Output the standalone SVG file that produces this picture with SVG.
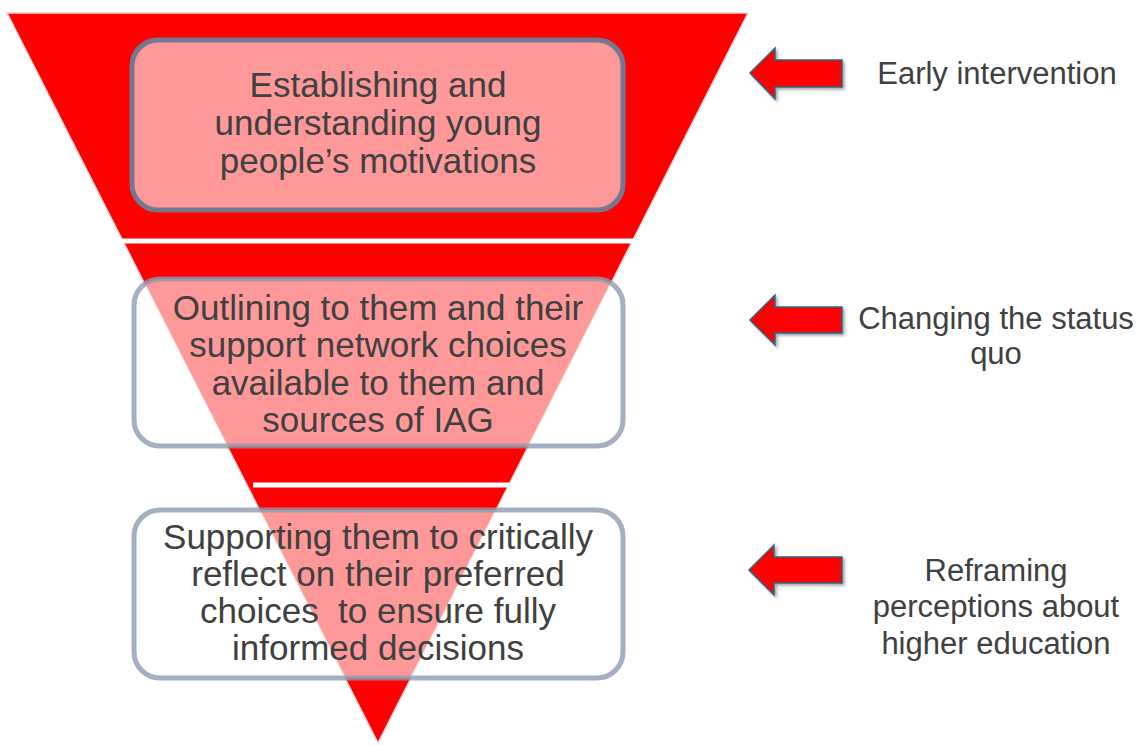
<svg xmlns="http://www.w3.org/2000/svg" width="1142" height="745" viewBox="0 0 1142 745">
  <style>
    .t { font-family: "Liberation Sans", Arial, sans-serif; fill: #404040; text-anchor: middle; white-space: pre; }
    .main { font-size: 35px; }
    .side { font-size: 31px; }
    .box1 { fill: #ffffff; fill-opacity: 0.6; stroke: #74788f; stroke-width: 5; }
    .box { fill: #ffffff; fill-opacity: 0.6; stroke: #8d9bb0; stroke-opacity: 0.8; stroke-width: 5; }
    .arrow { fill: #ff0000; stroke: #2b6684; stroke-width: 1.5; stroke-linejoin: miter; }
  </style>
  <defs>
    <filter id="sh" x="-20%" y="-20%" width="150%" height="150%">
      <feDropShadow dx="2" dy="2" stdDeviation="1.5" flood-color="#000000" flood-opacity="0.35"/>
    </filter>
  </defs>
  <rect width="1142" height="745" fill="#ffffff"/>

  <g id="funnel">
    <polygon points="7,13 748,13 378,743" fill="#ff0000" stroke="#d8d8d8" stroke-width="1.5"/>
    <rect x="120" y="238.5" width="516" height="5" fill="#ffffff"/>
    <rect x="253" y="482.5" width="256" height="5" fill="#ffffff"/>
  </g>

  <g id="node1">
    <rect class="box1" x="132" y="40" width="491" height="170" rx="26"/>
    <text class="t main" x="378" y="97">Establishing and</text>
    <text class="t main" x="378" y="135">understanding young</text>
    <text class="t main" x="378" y="173">people’s motivations</text>
  </g>

  <g id="node2">
    <rect class="box" x="134" y="279" width="489" height="167" rx="26"/>
    <text class="t main" x="378" y="320">Outlining to them and their</text>
    <text class="t main" x="378" y="357">support network choices</text>
    <text class="t main" x="378" y="395">available to them and</text>
    <text class="t main" x="378" y="432">sources of IAG</text>
  </g>

  <g id="node3">
    <rect class="box" x="134" y="510" width="489" height="168" rx="26"/>
    <text class="t main" x="378" y="549">Supporting them to critically</text>
    <text class="t main" x="378" y="586">reflect on their preferred</text>
    <text class="t main" x="378" y="623">choices  to ensure fully</text>
    <text class="t main" x="378" y="660">informed decisions</text>
  </g>

  <g id="connectors">
    <path class="arrow" filter="url(#sh)" d="M750,73 L775,48 L775,60 L842,60 L842,87 L775,87 L775,99 Z"/>
    <path class="arrow" filter="url(#sh)" d="M750,320 L775,295 L775,307 L842,307 L842,333 L775,333 L775,345 Z"/>
    <path class="arrow" filter="url(#sh)" d="M749,570 L774,545 L774,557 L842,557 L842,583 L774,583 L774,595 Z"/>
  </g>

  <g id="label1">
    <text class="t side" x="997" y="84">Early intervention</text>
  </g>
  <g id="label2">
    <text class="t side" x="996" y="329">Changing the status</text>
    <text class="t side" x="996" y="364">quo</text>
  </g>
  <g id="label3">
    <text class="t side" x="996" y="581">Reframing</text>
    <text class="t side" x="996" y="617">perceptions about</text>
    <text class="t side" x="996" y="654">higher education</text>
  </g>
</svg>
